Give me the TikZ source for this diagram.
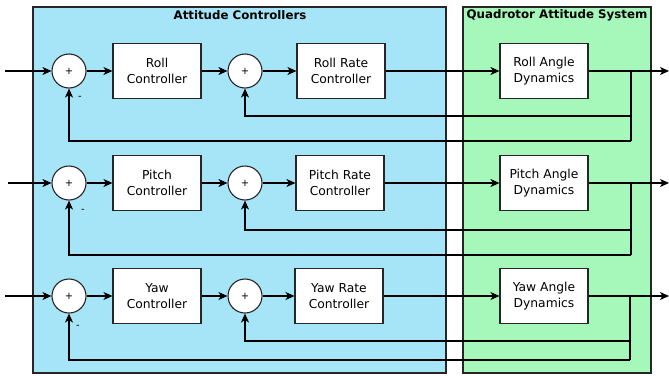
\documentclass[tikz,border=0pt]{standalone}
\usepackage{fontspec}
\setmainfont{DejaVu Sans}
\usetikzlibrary{arrows.meta}
\definecolor{ctrlblue}{HTML}{A6E5F7}
\definecolor{sysgreen}{HTML}{A6F7BA}
\tikzset{
  blk/.style={draw=black!85, fill=white, line width=1.1pt, minimum width=88pt, minimum height=55pt, inner sep=0pt, align=center, font=\fontsize{12.3}{15.5}\selectfont},
  sumc/.style={draw=black!85, fill=white, circle, line width=1.1pt, minimum size=34pt, inner sep=0pt, font=\fontsize{10}{11}\selectfont},
  arr/.style={line width=1.1pt, -{Stealth[length=9pt,width=8pt,inset=2.5pt]}},
  ln/.style={line width=1.1pt},
  grp/.style={draw=black!85, line width=1.1pt},
  ttl/.style={font=\bfseries\fontsize{11.8}{13}\selectfont},
  neg/.style={font=\fontsize{10}{11}\selectfont}
}
\begin{document}
\begin{tikzpicture}[x=1pt,y=-1pt]
\useasboundingbox (0,0) rectangle (669,375);
\draw[grp, fill=ctrlblue] (33,7) rectangle (446,373);
\draw[grp, fill=sysgreen] (463,7) rectangle (651,373);
\node[ttl] (t1) at (240,15) {Attitude Controllers};
\node[ttl] (t2) at (557,15) {Quadrotor Attitude System};
% rows
\foreach \n/\y/\lab/\yi/\yo/\ix/\rx/\bx in {1/71/Roll/116/141/5/341/631, 2/183/Pitch/230/255/8/340/631, 3/296/Yaw/341/360/5/339/630}{
  \coordinate (in\n) at (\ix,\y);
  \node[sumc] (sa\n) at (69,\y) {+};
  \node[blk] (c\n) at (157,\y) {\lab\\Controller};
  \node[sumc] (sb\n) at (245,\y) {+};
  \node[blk] (r\n) at (\rx,\y) {\lab{} Rate\\Controller};
  \node[blk] (d\n) at (544,\y) {\lab{} Angle\\Dynamics};
  \coordinate (out\n) at (669,\y);
  \coordinate (br\n) at (\bx,\y);
  \coordinate (fi\n) at (\bx,\yi);
  \coordinate (fo\n) at (\bx,\yo);
  \draw[arr] (in\n) -- (sa\n);
  \draw[arr] (sa\n) -- (c\n);
  \draw[arr] (c\n) -- (sb\n);
  \draw[arr] (sb\n) -- (r\n);
  \draw[arr] (r\n) -- (d\n);
  \draw[arr] (d\n) -- (out\n);
  \draw[ln] (br\n) -- (fo\n);
  \draw[arr] (fi\n) -| (sb\n);
  \draw[arr] (fo\n) -| (sa\n);
}
\node[neg] (m1) at (80,98) {-};
\node[neg] (m2) at (83,211) {-};
\node[neg] (m3) at (78,327) {-};
\end{tikzpicture}
\end{document}
